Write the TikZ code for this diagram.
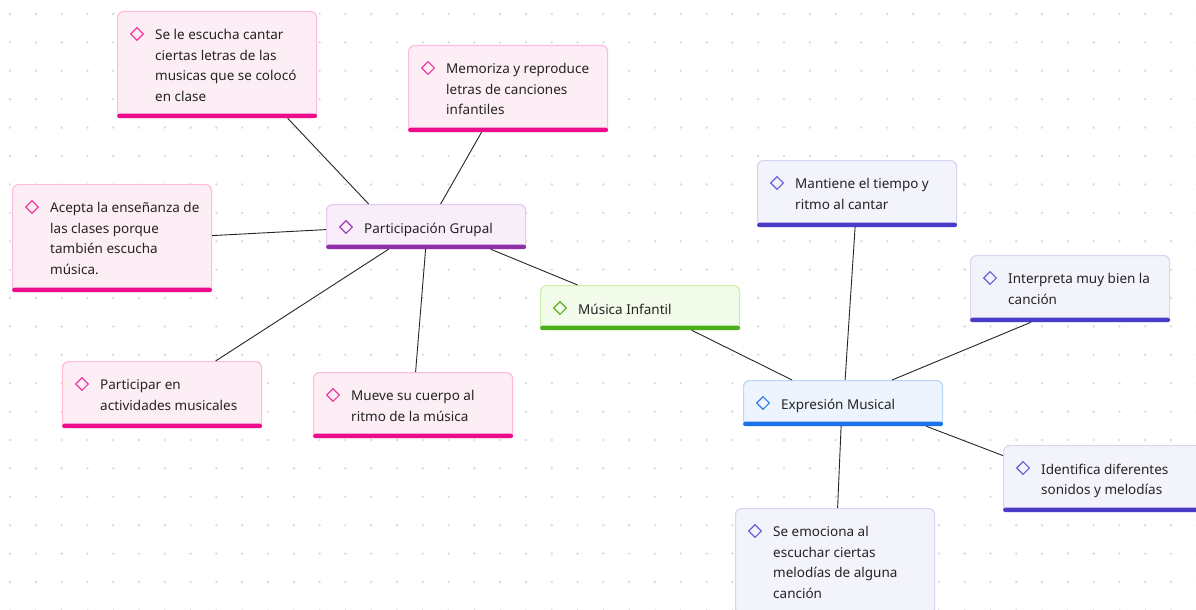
\documentclass[tikz,border=0pt]{standalone}
\usepackage{fontspec}
\setmainfont{Noto Sans}
\usetikzlibrary{shapes.geometric}
\definecolor{pkfill}{HTML}{FDEEF6}\definecolor{pkline}{HTML}{FFBADD}\definecolor{pkbar}{HTML}{EC0C8C}\definecolor{pkdia}{HTML}{F0399C}
\definecolor{pufill}{HTML}{F8EEFA}\definecolor{puline}{HTML}{E6C9F1}\definecolor{pubar}{HTML}{8F2FAA}\definecolor{pudia}{HTML}{9D3EB7}
\definecolor{grfill}{HTML}{F3FBEB}\definecolor{grline}{HTML}{C8F1A8}\definecolor{grbar}{HTML}{4DAF17}\definecolor{grdia}{HTML}{5CB122}
\definecolor{blfill}{HTML}{EEF4FD}\definecolor{blline}{HTML}{BAD5F6}\definecolor{blbar}{HTML}{1A73E8}\definecolor{bldia}{HTML}{2F7EEB}
\definecolor{lvfill}{HTML}{F3F3FB}\definecolor{lvline}{HTML}{D8D5F3}\definecolor{lvbar}{HTML}{4A3CC8}\definecolor{lvdia}{HTML}{6B5FD9}
\definecolor{txtc}{HTML}{242424}
\definecolor{dotc}{HTML}{DADADA}
\tikzset{
  box/.style={rectangle, rounded corners=6pt, line width=1.2pt, minimum width=199pt, anchor=north west, inner sep=0pt},
  diam/.style={diamond, line width=1.1pt, minimum width=13pt, minimum height=13pt, inner sep=0pt},
  txt/.style={anchor=north west, align=left, inner sep=0pt, text=txtc, font=\fontsize{13.5pt}{20.5pt}\selectfont},
  conn/.style={draw=black!85, line width=0.9pt}
}
\newcommand{\mmnode}[6]{%
  \node[box, draw=#5line, fill=#5fill, minimum height=#4pt] (#1) at (#2,#3) {};
  \fill[#5bar, rounded corners=2.5pt] ([yshift=4.5pt]#1.south west) rectangle (#1.south east);
  \node[diam, draw=#5dia] (#1d) at ([shift={(20pt,-23pt)}]#1.north west) {};
  \node[txt] (#1t) at ([shift={(38pt,-18.5pt)}]#1.north west) {#6};
}
\begin{document}
\begin{tikzpicture}[x=1pt,y=1pt]
\useasboundingbox (0,0) rectangle (1196,-610);
\clip (0,0) rectangle (1196,-610);
\fill[white] (0,0) rectangle (1196,-610);
\foreach \i in {0,...,46} {\foreach \j in {0,...,21} {\fill[dotc] (10+\i*25.8,-14-\j*28.4) circle (1.3pt);}}
% left cluster
\mmnode{n1}{117}{-11}{106}{pk}{Se le escucha cantar\\ciertas letras de las\\musicas que se colocó\\en clase}
\mmnode{n2}{408}{-45}{86}{pk}{Memoriza y reproduce\\letras de canciones\\infantiles}
\mmnode{n3}{12}{-184}{107}{pk}{Acepta la enseñanza de\\las clases porque\\también escucha\\música.}
\mmnode{pg}{326}{-204}{44}{pu}{Participación Grupal}
\mmnode{n5}{62}{-361}{66}{pk}{Participar en\\actividades musicales}
\mmnode{n6}{313}{-372}{65}{pk}{Mueve su cuerpo al\\ritmo de la música}
\mmnode{mi}{540}{-285}{44}{gr}{Música Infantil}
% right cluster
\mmnode{m1}{757}{-160}{66}{lv}{Mantiene el tiempo y\\ritmo al cantar}
\mmnode{m2}{970}{-255}{66}{lv}{Interpreta muy bien la\\canción}
\mmnode{em}{743}{-380}{45}{bl}{Expresión Musical}
\mmnode{m3}{1003}{-445}{66}{lv}{Identifica diferentes\\sonidos y melodías}
\mmnode{m4}{735}{-508}{106}{lv}{Se emociona al\\escuchar ciertas\\melodías de alguna\\canción}
% connectors
\draw[conn] ([xshift=-57.5pt]pg.north) -- ([xshift=70.5pt]n1.south);
\draw[conn] ([xshift=14.5pt]pg.north) -- ([xshift=-26.5pt]n2.south);
\draw[conn] ([yshift=-3pt]pg.west) -- ([yshift=2.5pt]n3.east);
\draw[conn] ([xshift=-37.5pt]pg.south) -- ([xshift=53.5pt]n5.north);
\draw[conn] ([xshift=-0.5pt]pg.south) -- ([xshift=2.5pt]n6.north);
\draw[conn] ([xshift=64.5pt]pg.south) -- ([xshift=-62.5pt]mi.north);
\draw[conn] ([xshift=51.5pt]mi.south) -- ([xshift=-51pt]em.north);
\draw[conn] ([xshift=2pt]em.north) -- ([xshift=-2pt]m1.south);
\draw[conn] ([xshift=49pt]em.north) -- ([xshift=-39pt]m2.south);
\draw[conn] ([xshift=83pt]em.south) -- ([yshift=23pt]m3.west);
\draw[conn] ([xshift=-2pt]em.south) -- ([xshift=2.5pt]m4.north);
\end{tikzpicture}
\end{document}
